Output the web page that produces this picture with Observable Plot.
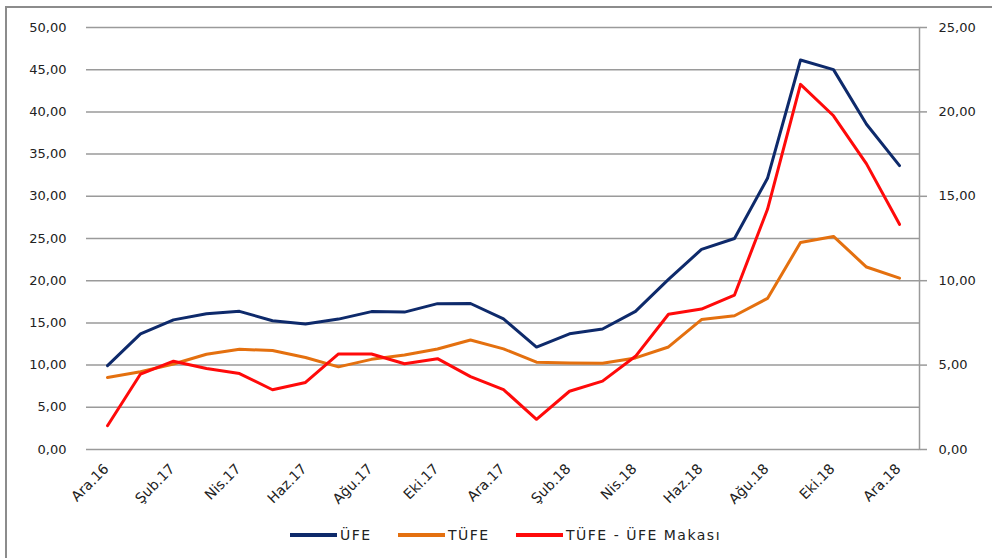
<!DOCTYPE html>
<html>
<head>
<meta charset="utf-8">
<script src="https://cdn.jsdelivr.net/npm/d3@7"></script>
<script src="https://cdn.jsdelivr.net/npm/@observablehq/plot@0.6"></script>
<style>
  html, body { margin: 0; padding: 0; background: #fff; }
  #wrap { position: relative; width: 992px; height: 558px; overflow: hidden; font-family: "DejaVu Sans", Verdana, sans-serif; }
  #border { position: absolute; left: 5px; top: 6px; width: 1000px; height: 600px; border-top: 2px solid #8c8c8c; border-left: 2px solid #8c8c8c; box-sizing: border-box; }
  #chart { position: absolute; left: 0; top: 0; }
  #legend { position: absolute; top: 525px; left: 0; width: 992px; height: 20px; font-size: 14px; letter-spacing: 1.5px; color: #222; }
  .item { position: absolute; top: 0; display: flex; align-items: center; height: 20px; }
  .swatch { width: 47px; height: 3.5px; margin-right: 3px; }
</style>
</head>
<body>
<div id="wrap">
  <div id="border"></div>
  <div id="chart"></div>
  <div id="legend"></div>
</div>
<script>
const months = ["Ara.16","Oca.17","Şub.17","Mar.17","Nis.17","May.17","Haz.17","Tem.17","Ağu.17","Eyl.17","Eki.17","Kas.17","Ara.17","Oca.18","Şub.18","Mar.18","Nis.18","May.18","Haz.18","Tem.18","Ağu.18","Eyl.18","Eki.18","Kas.18","Ara.18"];
const ufe   = [9.94,13.69,15.36,16.09,16.37,15.26,14.87,15.45,16.34,16.28,17.28,17.30,15.47,12.14,13.71,14.28,16.37,20.16,23.71,25.00,32.13,46.15,45.01,38.54,33.64];
const tufe  = [8.53,9.22,10.13,11.29,11.87,11.72,10.90,9.79,10.68,11.20,11.90,12.98,11.92,10.35,10.26,10.23,10.85,12.15,15.39,15.85,17.90,24.52,25.24,21.62,20.30];
const makas = [1.41,4.47,5.23,4.80,4.50,3.54,3.97,5.66,5.66,5.08,5.38,4.32,3.55,1.79,3.45,4.05,5.52,8.01,8.32,9.15,14.23,21.63,19.77,16.92,13.34];
const seriesNames = ["ÜFE","TÜFE","TÜFE - ÜFE Makası"];
const seriesColors = ["#0e2a6b","#e4700f","#ff0a0a"];
const leftTicks = [0,5,10,15,20,25,30,35,40,45,50];
const labeledMonths = months.filter((m, i) => i % 2 === 0);

const fmt = v => v.toFixed(2).replace(".", ",");
const rows = months.map((m, i) => ({m, ufe: ufe[i], tufe: tufe[i], makas: makas[i]}));

const chart = Plot.plot({
  width: 992,
  height: 515,
  marginTop: 27,
  marginBottom: 66,
  marginLeft: 86,
  marginRight: 73,
  style: {fontFamily: "'DejaVu Sans', Verdana, sans-serif", fontSize: "13px", color: "#222", background: "transparent"},
  x: {type: "point", domain: months, padding: 0.5},
  y: {domain: [0, 50]},
  marks: [
    Plot.ruleY(leftTicks, {stroke: "#9a9a9a", strokeWidth: 1.5}),
    Plot.frame({anchor: "right", stroke: "#9a9a9a", strokeWidth: 1.5}),
    Plot.axisY(leftTicks, {anchor: "left", tickSize: 0, tickPadding: 20, tickFormat: fmt, label: null, fontSize: 13}),
    Plot.axisY(leftTicks.filter(t => t % 10 === 0), {anchor: "right", tickSize: 7, tickPadding: 12, stroke: "#9a9a9a", strokeWidth: 1.5, tickFormat: d => fmt(d / 2), label: null, fontSize: 13}),
    Plot.axisX(labeledMonths, {tickSize: 0, tickRotate: -45, tickPadding: 17, dx: -1, label: null, fontSize: 14, fontFamily: "'DejaVu Sans', sans-serif"}),
    Plot.line(rows, {x: "m", y: "tufe", stroke: seriesColors[1], strokeWidth: 3}),
    Plot.line(rows, {x: "m", y: "ufe", stroke: seriesColors[0], strokeWidth: 3}),
    Plot.line(rows, {x: "m", y: d => d.makas * 2, stroke: seriesColors[2], strokeWidth: 3})
  ]
});
document.getElementById("chart").appendChild(chart);

const legendX = [290, 398, 516];
const legend = document.getElementById("legend");
seriesNames.forEach((n, i) => {
  const it = document.createElement("div");
  it.className = "item";
  it.style.left = legendX[i] + "px";
  it.innerHTML = `<span class="swatch" style="background:${seriesColors[i]}"></span><span>${n}</span>`;
  legend.appendChild(it);
});
</script>
</body>
</html>
